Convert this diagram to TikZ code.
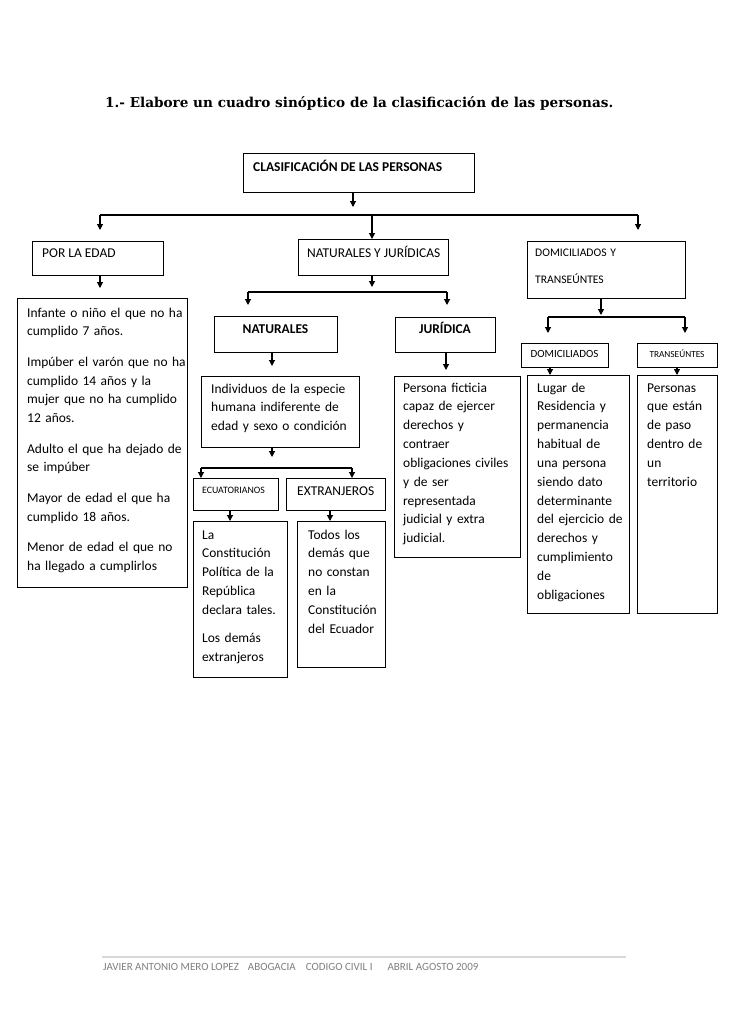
\documentclass[tikz,border=0pt]{standalone}
\usepackage{fontspec}
\setmainfont{Carlito}
\newfontfamily\titlefont{DejaVu Serif}
\usetikzlibrary{arrows.meta}
\definecolor{footgray}{HTML}{7F7F7F}
\definecolor{footline}{HTML}{D9D9D9}
\begin{document}
\begin{tikzpicture}[x=1pt,y=-1pt,
  box/.style={draw, line width=1.1pt, inner sep=0pt, anchor=north west},
  body/.style={anchor=base west, inner sep=0pt, align=left, text width=200pt,
    font=\fontsize{13.46}{18.85}\selectfont},
  lbl/.style={anchor=base west, inner sep=0pt, font=\fontsize{13.46}{16}\selectfont},
  arr/.style={-{Triangle[length=6pt,width=6pt]}, line width=1.1pt},
  ln/.style={line width=1.1pt}]
\useasboundingbox (0,0) rectangle (728,1030);
\fill[white] (0,0) rectangle (728,1030);

% title
\node[anchor=base west, inner sep=0pt, font=\titlefont\bfseries\fontsize{13.6}{16}\selectfont] (title) at (105,108)
  {1.- Elabore un cuadro sinóptico de la clasificación de las personas.};

% boxes
\node[box, minimum width=231pt, minimum height=39pt] (top) at (243,153) {};
\node[box, minimum width=131pt, minimum height=34pt] (edad) at (32,241) {};
\node[box, minimum width=150pt, minimum height=36pt] (nj) at (298,239) {};
\node[box, minimum width=158pt, minimum height=57pt] (dyt) at (527,241) {};
\node[box, minimum width=170pt, minimum height=289pt] (inf) at (17,298) {};
\node[box, minimum width=123pt, minimum height=36pt] (nat) at (214,316) {};
\node[box, minimum width=100pt, minimum height=35pt] (jur) at (395,317) {};
\node[box, minimum width=158pt, minimum height=71pt] (ind) at (201,376) {};
\node[box, minimum width=85pt, minimum height=32pt] (ecu) at (193,478) {};
\node[box, minimum width=99pt, minimum height=32pt] (ext) at (286,478) {};
\node[box, minimum width=94pt, minimum height=156pt] (la) at (193,521) {};
\node[box, minimum width=88pt, minimum height=146pt] (tod) at (297,521) {};
\node[box, minimum width=126pt, minimum height=181pt] (per) at (394,376) {};
\node[box, minimum width=87pt, minimum height=24pt] (dom) at (521,343) {};
\node[box, minimum width=80pt, minimum height=24pt] (tra) at (637,343) {};
\node[box, minimum width=102pt, minimum height=238pt] (lug) at (527,375) {};
\node[box, minimum width=80pt, minimum height=238pt] (pso) at (637,375) {};

% texts
\node[lbl, font=\fontsize{13.46}{16}\selectfont\bfseries] (ttop) at (253,171) {CLASIFICACIÓN DE LAS PERSONAS};
\node[lbl] (tedad) at (42,257) {POR LA EDAD};
\node[lbl] (tnj) at (307,257) {NATURALES Y JURÍDICAS};
\node[body, font=\fontsize{11.6}{27}\selectfont] (tdyt) at (535,256) {DOMICILIADOS Y\\TRANSEÚNTES};
\node[body] (tinf) at (27,317) {Infante o niño el que no ha\\cumplido 7 años.\\[11.5pt]
  Impúber el varón que no ha\\cumplido 14 años y la\\mujer que no ha cumplido\\12 años.\\[11.5pt]
  Adulto el que ha dejado de\\se impúber\\[11.5pt]
  Mayor de edad el que ha\\cumplido 18 años.\\[11.5pt]
  Menor de edad el que no\\ha llegado a cumplirlos};
\node[anchor=base, inner sep=0pt, font=\fontsize{13.46}{16}\selectfont\bfseries] (tnat) at (275.5,333) {NATURALES};
\node[anchor=base, inner sep=0pt, font=\fontsize{13.46}{16}\selectfont\bfseries] (tjur) at (445,333) {JURÍDICA};
\node[body] (tind) at (211,393) {Individuos de la especie\\humana indiferente de\\edad y sexo o condición};
\node[lbl, font=\fontsize{9.8}{12}\selectfont] (tecu) at (202,493) {ECUATORIANOS};
\node[lbl] (text) at (297,495) {EXTRANJEROS};
\node[body] (tla) at (202,539) {La\\Constitución\\Política de la\\República\\declara tales.\\[9pt]Los demás\\extranjeros};
\node[body] (ttod) at (308,539) {Todos los\\demás que\\no constan\\en la\\Constitución\\del Ecuador};
\node[body] (tper) at (403,392) {Persona ficticia\\capaz de ejercer\\derechos y\\contraer\\obligaciones civiles\\y de ser\\representada\\judicial y extra\\judicial.};
\node[anchor=base, inner sep=0pt, font=\fontsize{11}{13}\selectfont] (tdom) at (564.5,357) {DOMICILIADOS};
\node[anchor=base, inner sep=0pt, font=\fontsize{9.3}{11}\selectfont] (ttra) at (677,357) {TRANSEÚNTES};
\node[body] (tlug) at (537,392) {Lugar de\\Residencia y\\permanencia\\habitual de\\una persona\\siendo dato\\determinante\\del ejercicio de\\derechos y\\cumplimiento\\de\\obligaciones};
\node[body] (tpso) at (647,392) {Personas\\que están\\de paso\\dentro de\\un\\territorio};

% bus coordinates
\coordinate (b1l) at (100,215);
\coordinate (b1m) at (372,215);
\coordinate (b1r) at (638,215);
\coordinate (c1) at (353,215);
\coordinate (b2l) at (248,292);
\coordinate (b2r) at (447,292);
\coordinate (c2) at (372,292);
\coordinate (b3l) at (201,468);
\coordinate (b3r) at (352,468);
\coordinate (c3) at (272,468);
\coordinate (b4l) at (548,317);
\coordinate (b4r) at (685,317);
\coordinate (c4) at (601,317);
\coordinate (cE) at (100,0);
\coordinate (cJ) at (446,0);
\coordinate (cEc) at (230,0);
\coordinate (cEx) at (330,0);
\coordinate (cD) at (550,0);
\coordinate (cT) at (677,0);

% level 1
\draw[arr, shorten >=8pt] (top.south -| c1) -- (c1);
\draw[ln] (b1l) -- (b1r);
\draw[arr, shorten >=11pt] (b1l) -- (edad.north -| b1l);
\draw[arr] (b1m) -- (nj.north -| b1m);
\draw[arr, shorten >=11pt] (b1r) -- (dyt.north -| b1r);

% por la edad
\draw[arr, shorten >=10pt] (edad.south -| cE) -- (inf.north -| cE);

% naturales y juridicas
\draw[arr, shorten >=5pt] (nj.south -| c2) -- (c2);
\draw[ln] (b2l) -- (b2r);
\draw[arr, shorten >=11pt] (b2l) -- (nat.north -| b2l);
\draw[arr, shorten >=12pt] (b2r) -- (jur.north -| b2r);
\draw[arr, shorten >=10pt] (nat.south -| c3) -- (ind.north -| c3);
\draw[arr, shorten >=6pt] (jur.south -| cJ) -- (per.north -| cJ);
\draw[arr, shorten >=11pt] (ind.south -| c3) -- (c3);
\draw[ln] (b3l) -- (b3r);
\draw[arr] (b3l) -- (ecu.north -| b3l);
\draw[arr] (b3r) -- (ext.north -| b3r);
\draw[arr] (ecu.south -| cEc) -- (la.north -| cEc);
\draw[arr] (ext.south -| cEx) -- (tod.north -| cEx);

% domiciliados y transeuntes
\draw[arr, shorten >=2pt] (dyt.south -| c4) -- (c4);
\draw[ln] (b4l) -- (b4r);
\draw[arr, shorten >=10pt] (b4l) -- (dom.north -| b4l);
\draw[arr, shorten >=10pt] (b4r) -- (tra.north -| b4r);
\draw[arr] (dom.south -| cD) -- (lug.north -| cD);
\draw[arr] (tra.south -| cT) -- (pso.north -| cT);

% footer
\coordinate (fl) at (102,957);
\coordinate (fr) at (626,957);
\draw[footline, line width=1.6pt] (fl) -- (fr);
\node[anchor=base west, inner sep=0pt, text=footgray, font=\fontsize{11}{13}\selectfont] (foot) at (103,970)
  {JAVIER ANTONIO MERO LOPEZ\hspace{9pt}ABOGACIA\hspace{10pt}CODIGO CIVIL I\hspace{15pt}ABRIL AGOSTO 2009};
\end{tikzpicture}
\end{document}
